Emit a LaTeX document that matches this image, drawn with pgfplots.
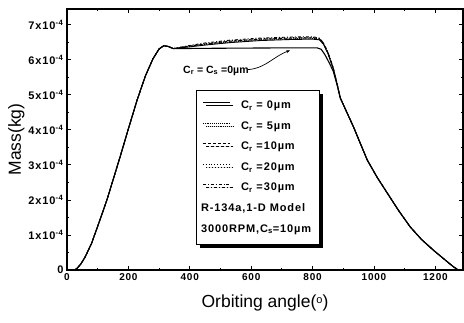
\documentclass[border=0pt]{standalone}
\usepackage{fontspec}
\setmainfont{Liberation Sans}
\newfontfamily\spaced[LetterSpace=8]{Liberation Sans}
\usepackage{pgfplots}
\pgfplotsset{compat=1.18}
\usetikzlibrary{shadows,arrows.meta}
\begin{document}
\begin{tikzpicture}
\begin{axis}[
  scale only axis, width=396pt, height=261pt,
  xmin=0, xmax=1290, ymin=0, ymax=7.45,
  xtick={0,200,...,1200}, minor x tick num=1,
  ytick={0,1,...,7}, minor y tick num=1,
  yticklabels={0,1x10\textsuperscript{-4},2x10\textsuperscript{-4},3x10\textsuperscript{-4},4x10\textsuperscript{-4},5x10\textsuperscript{-4},6x10\textsuperscript{-4},7x10\textsuperscript{-4}},
  tick align=inside,
  major tick length=4pt, minor tick length=2pt,
  axis line style={line width=1.2pt},
  every tick/.style={line width=0.8pt, black},
  /pgf/number format/assume math mode=true,
  /pgf/number format/set thousands separator={},
  xticklabel style={font=\spaced\bfseries\fontsize{10}{12}\selectfont},
  yticklabel style={font=\spaced\bfseries\fontsize{11}{12}\selectfont},
  xlabel={Orbiting angle(\raisebox{0.35ex}{\fontsize{11}{12}\selectfont o})},
  ylabel={Mass(kg)},
  label style={font=\fontsize{17.5}{20}\selectfont},
  xlabel style={yshift=-7pt},
  ylabel style={yshift=-3pt},
  clip=false,
  legend cell align=left,
  legend image code/.code={\draw[#1, line width=0.6pt] (0pt,3.5pt) -- (27pt,3.5pt);},
  legend style={at={(0.326,0.69)}, anchor=north west, draw=black, line width=0.8pt, fill=white,
    general shadow={fill=black, shadow xshift=3.5pt, shadow yshift=-3.5pt},
    font=\spaced\bfseries\fontsize{11}{13}\selectfont, row sep=7.3pt, column sep=9pt, inner xsep=6pt, inner ysep=9pt},
]
% C_r = C_s = 0 um
\addplot[black, line width=1.1pt, forget plot] coordinates {
(25,0) (33,0.05) (45,0.17) (59,0.37) (80,0.76) (98,1.2) (115,1.62) (130,2.0) (150,2.57) (173,3.23) (200,4.03) (228,4.84) (255,5.53) (280,6.03) (300,6.31) (315,6.40) (330,6.38) (346,6.32)
(500,6.33) (700,6.34) (815,6.34) (828,6.30) (840,6.15) (855,5.90) (867,5.68) (880,5.28) (890,4.91) (896,4.8)
(933,4.09) (978,3.14) (1010,2.65) (1043,2.2) (1080,1.7) (1118,1.23) (1155,0.87) (1193,0.57) (1230,0.3) (1259,0.09) (1275,0)};
% C_r = 0
\addplot[black, line width=0.9pt] coordinates {
(25,0) (33,0.05) (45,0.17) (59,0.37) (80,0.76) (98,1.2) (115,1.62) (130,2.0) (150,2.57) (173,3.23) (200,4.03) (228,4.84) (255,5.53) (280,6.03) (300,6.31) (315,6.40) (330,6.38) (346,6.32)
(400,6.37) (450,6.42) (530,6.49) (630,6.55) (730,6.58) (800,6.59) (822,6.57)
(835,6.45) (850,6.18) (867,5.75) (880,5.3) (890,4.92) (896,4.8) (933,4.09) (978,3.14) (1010,2.65) (1043,2.2) (1080,1.7) (1118,1.23) (1155,0.87) (1193,0.57) (1230,0.3) (1259,0.09) (1275,0)};
\addlegendentry{C\textsubscript{r} = 0µm}
% C_r = 5
\addplot[black, line width=0.9pt, densely dotted] coordinates {
(25,0) (33,0.05) (45,0.17) (59,0.37) (80,0.76) (98,1.2) (115,1.62) (130,2.0) (150,2.57) (173,3.23) (200,4.03) (228,4.84) (255,5.53) (280,6.03) (300,6.31) (315,6.40) (330,6.38) (346,6.32)
(400,6.38) (450,6.44) (530,6.51) (630,6.57) (730,6.60) (800,6.61) (822,6.59)
(835,6.46) (850,6.19) (867,5.76) (880,5.3) (890,4.92) (896,4.8) (933,4.09) (978,3.14) (1010,2.65) (1043,2.2) (1080,1.7) (1118,1.23) (1155,0.87) (1193,0.57) (1230,0.3) (1259,0.09) (1275,0)};
\addlegendentry{C\textsubscript{r} = 5µm}
% C_r = 10
\addplot[black, line width=0.9pt, dash pattern=on 3pt off 2pt] coordinates {
(25,0) (33,0.05) (45,0.17) (59,0.37) (80,0.76) (98,1.2) (115,1.62) (130,2.0) (150,2.57) (173,3.23) (200,4.03) (228,4.84) (255,5.53) (280,6.03) (300,6.31) (315,6.40) (330,6.38) (346,6.32)
(400,6.39) (450,6.45) (530,6.53) (630,6.59) (730,6.62) (800,6.63) (822,6.60)
(835,6.47) (850,6.20) (867,5.77) (880,5.31) (890,4.92) (896,4.8) (933,4.09) (978,3.14) (1010,2.65) (1043,2.2) (1080,1.7) (1118,1.23) (1155,0.87) (1193,0.57) (1230,0.3) (1259,0.09) (1275,0)};
\addlegendentry{C\textsubscript{r} =10µm}
% C_r = 20
\addplot[black, line width=0.9pt, dotted] coordinates {
(25,0) (33,0.05) (45,0.17) (59,0.37) (80,0.76) (98,1.2) (115,1.62) (130,2.0) (150,2.57) (173,3.23) (200,4.03) (228,4.84) (255,5.53) (280,6.03) (300,6.31) (315,6.40) (330,6.38) (346,6.32)
(400,6.40) (450,6.46) (530,6.54) (630,6.60) (730,6.63) (800,6.64) (822,6.61)
(835,6.48) (850,6.21) (867,5.78) (880,5.31) (890,4.93) (896,4.8) (933,4.09) (978,3.14) (1010,2.65) (1043,2.2) (1080,1.7) (1118,1.23) (1155,0.87) (1193,0.57) (1230,0.3) (1259,0.09) (1275,0)};
\addlegendentry{C\textsubscript{r} =20µm}
% C_r = 30
\addplot[black, line width=0.9pt, dash dot] coordinates {
(25,0) (33,0.05) (45,0.17) (59,0.37) (80,0.76) (98,1.2) (115,1.62) (130,2.0) (150,2.57) (173,3.23) (200,4.03) (228,4.84) (255,5.53) (280,6.03) (300,6.31) (315,6.40) (330,6.38) (346,6.32)
(400,6.41) (450,6.48) (530,6.56) (630,6.62) (730,6.65) (800,6.66) (822,6.62)
(835,6.49) (850,6.22) (867,5.79) (880,5.32) (890,4.93) (896,4.8) (933,4.09) (978,3.14) (1010,2.65) (1043,2.2) (1080,1.7) (1118,1.23) (1155,0.87) (1193,0.57) (1230,0.3) (1259,0.09) (1275,0)};
\addlegendentry{C\textsubscript{r} =30µm}
\addlegendimage{empty legend}
\addlegendentry{\hspace{-40pt}R-134a,1-D Model}
\addlegendimage{empty legend}
\addlegendentry{\hspace{-40pt}3000RPM,C\textsubscript{s}=10µm}
% annotation
\node[anchor=west, inner sep=0pt, font=\bfseries\fontsize{10.5}{12}\selectfont] at (axis cs:378,5.69) {C\textsubscript{r} = C\textsubscript{s} =0µm};
\draw[line width=0.7pt, -{Stealth[length=4pt,width=3pt]}] (axis cs:590,5.72) to[out=5,in=200] (axis cs:727,6.27);
\end{axis}
\pgfresetboundingbox
\path ([shift={(-67pt,-52pt)}]current axis.south west) rectangle ([shift={(1pt,9pt)}]current axis.north east);
\end{tikzpicture}
\end{document}
